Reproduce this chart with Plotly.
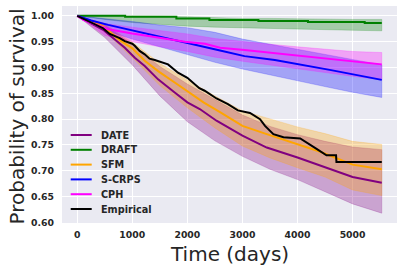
import plotly.graph_objects as go

# ---------------- data ----------------
band_t = [0, 500, 1000, 1500, 2000, 2500, 3000, 3500, 4000, 4500, 5000, 5530]

# DATE (purple)
date_t = [0, 250, 470, 864, 1045, 1226, 1468, 1770, 2000, 2225, 2529, 3000, 3441, 4000, 4413, 5000, 5530]
date_v = [1.0, 0.986, 0.973, 0.938, 0.919, 0.903, 0.877, 0.8515, 0.8325, 0.8196, 0.797, 0.768, 0.745, 0.7257, 0.7096, 0.688, 0.677]
date_lo = [1.0, 0.958, 0.905, 0.845, 0.795, 0.758, 0.728, 0.703, 0.683, 0.659, 0.636, 0.618]
date_hi = [1.0, 0.982, 0.945, 0.902, 0.868, 0.838, 0.808, 0.786, 0.770, 0.757, 0.746, 0.741]

# DRAFT (green)
draft_t = [0, 870, 1800, 2400, 3290, 4190, 5220, 5530]
draft_v = [1.0, 0.998, 0.995, 0.992, 0.990, 0.988, 0.986, 0.986]
draft_lo = [1.0, 0.993, 0.987, 0.983, 0.980, 0.978, 0.976, 0.975, 0.974, 0.973, 0.972, 0.971]
draft_hi = [1.0, 1.0, 1.0, 0.999, 0.998, 0.996, 0.995, 0.995, 0.994, 0.994, 0.993, 0.993]

# SFM (orange)
sfm_t = [0, 250, 470, 771, 1000, 1226, 1468, 1770, 2000, 2300, 2600, 3000, 3441, 4000, 4413, 5000, 5530]
sfm_v = [1.0, 0.99, 0.98, 0.953, 0.937, 0.913, 0.893, 0.871, 0.854, 0.832, 0.813, 0.787, 0.771, 0.7516, 0.737, 0.712, 0.703]
sfm_lo = [1.0, 0.970, 0.919, 0.865, 0.822, 0.783, 0.748, 0.725, 0.706, 0.688, 0.663, 0.652]
sfm_hi = [1.0, 0.984, 0.949, 0.908, 0.876, 0.845, 0.816, 0.800, 0.785, 0.772, 0.757, 0.751]

# S-CRPS (blue)
scrps_t = [0, 250, 563, 1000, 1470, 1955, 2318, 2594, 3038, 3588, 4585, 5000, 5530]
scrps_v = [1.0, 0.991, 0.9825, 0.972, 0.9606, 0.949, 0.941, 0.933, 0.922, 0.9146, 0.8954, 0.887, 0.876]
scrps_lo = [1.0, 0.972, 0.955, 0.940, 0.925, 0.910, 0.897, 0.885, 0.874, 0.863, 0.852, 0.842]
scrps_hi = [1.0, 0.995, 0.989, 0.982, 0.977, 0.968, 0.955, 0.945, 0.935, 0.925, 0.915, 0.905]

# CPH (magenta)
cph_t = [0, 110, 260, 563, 1000, 1470, 1955, 2318, 2594, 3038, 3588, 4585, 5000, 5530]
cph_v = [1.0, 0.992, 0.986, 0.974, 0.9656, 0.9575, 0.950, 0.946, 0.9383, 0.934, 0.9275, 0.916, 0.911, 0.906]
cph_lo = [1.0, 0.962, 0.950, 0.940, 0.931, 0.920, 0.912, 0.905, 0.897, 0.890, 0.883, 0.876]
cph_hi = [1.0, 0.985, 0.978, 0.971, 0.965, 0.956, 0.950, 0.945, 0.940, 0.935, 0.931, 0.929]

# Empirical (black)
emp_t = [0, 229, 470, 590, 771, 864, 1000, 1045, 1133, 1226, 1313, 1408, 1494, 1649, 1830, 2000,
         2217, 2313, 2529, 2736, 2917, 3137, 3319, 3410, 3562, 3745, 4049, 4170, 4353, 4526, 4700, 4707, 5530]
emp_v = [1.0, 0.989, 0.976, 0.965, 0.957, 0.951, 0.946, 0.942, 0.932, 0.9255, 0.917, 0.9146, 0.912, 0.906, 0.890, 0.880,
         0.860, 0.855, 0.840, 0.829, 0.817, 0.812, 0.800, 0.787, 0.771, 0.765, 0.7626, 0.755, 0.742, 0.730, 0.730, 0.717, 0.717]

legend_names = ["DATE", "DRAFT", "SFM", "S-CRPS", "CPH", "Empirical"]
y_ticks = [0.60, 0.65, 0.70, 0.75, 0.80, 0.85, 0.90, 0.95, 1.00]
x_ticks = [0, 1000, 2000, 3000, 4000, 5000]

# ---------------- figure ----------------
TXT = "#262626"
FONT = "DejaVu Sans"

models = [
    ("DATE", date_t, date_v, date_lo, date_hi, (128, 0, 128), "linear"),
    ("DRAFT", draft_t, draft_v, draft_lo, draft_hi, (0, 128, 0), "hv"),
    ("SFM", sfm_t, sfm_v, sfm_lo, sfm_hi, (255, 165, 0), "linear"),
    ("S-CRPS", scrps_t, scrps_v, scrps_lo, scrps_hi, (0, 0, 255), "linear"),
    ("CPH", cph_t, cph_v, cph_lo, cph_hi, (255, 0, 255), "linear"),
]
colors = {m[0]: "rgb(%d,%d,%d)" % m[5] for m in models}
colors["Empirical"] = "black"

fig = go.Figure()

for name, t, v, lo, hi, c, shape in models:
    fig.add_trace(go.Scatter(
        x=band_t + band_t[::-1], y=hi + lo[::-1],
        fill="toself", mode="lines",
        line=dict(width=0.6, color="rgba(%d,%d,%d,0.35)" % c),
        fillcolor="rgba(%d,%d,%d,0.3)" % c,
        showlegend=False, hoverinfo="skip"))

for name, t, v, lo, hi, c, shape in models:
    fig.add_trace(go.Scatter(
        x=t, y=v, mode="lines", name=name, showlegend=False,
        line=dict(color=colors[name], width=2, shape=shape)))

fig.add_trace(go.Scatter(
    x=emp_t, y=emp_v, mode="lines", name="Empirical", showlegend=False,
    line=dict(color="black", width=2)))

# custom legend (pixel offsets from the plot area's top-left corner)
PLOT_TOP = 6
shapes, annotations = [], []
for i, name in enumerate(legend_names):
    row = 129 + 14.8 * i  # pixels below plot top
    shapes.append(dict(
        type="line", xref="paper", yref="paper",
        xsizemode="pixel", ysizemode="pixel", xanchor=0, yanchor=1,
        x0=8.7, x1=29.7, y0=-row, y1=-row,
        line=dict(color=colors[name], width=2)))
    annotations.append(dict(
        text=name, xref="paper", yref="paper", x=0, y=1,
        xanchor="left", yanchor="middle", xshift=37, yshift=-row,
        showarrow=False, font=dict(family=FONT, size=9.7, color=TXT, weight="bold")))

annotations += [
    dict(text="Time (days)", xref="paper", yref="paper", x=0.5, y=0,
         xanchor="center", yanchor="middle", yshift=-31, showarrow=False,
         font=dict(family=FONT, size=20, color=TXT)),
    dict(text="Probability of survival", xref="paper", yref="paper", x=0, y=0.5,
         xanchor="center", yanchor="middle", xshift=-46, yshift=-2, textangle=-90,
         showarrow=False, font=dict(family=FONT, size=20, color=TXT)),
]

fig.update_layout(
    width=403, height=271,
    margin=dict(l=62, r=6, t=PLOT_TOP, b=48, autoexpand=False),
    paper_bgcolor="white", plot_bgcolor="#EAEAF2",
    font=dict(family=FONT, color=TXT),
    showlegend=False,
    xaxis=dict(
        range=[-276.5, 5806.5], tickvals=x_ticks, ticktext=[str(x) for x in x_ticks],
        showgrid=True, gridcolor="white", gridwidth=1, zeroline=False, automargin=False,
        showline=False, ticks="", ticklabelstandoff=5,
        tickfont=dict(family=FONT, size=9.3, color=TXT, weight="bold")),
    yaxis=dict(
        range=[0.599, 1.019], tickvals=y_ticks, ticktext=["%.2f" % y for y in y_ticks],
        showgrid=True, gridcolor="white", gridwidth=1, zeroline=False, automargin=False,
        showline=False, ticks="", ticklabelstandoff=7,
        tickfont=dict(family=FONT, size=9.3, color=TXT, weight="bold")),
    shapes=shapes,
    annotations=annotations,
)

fig.write_html("out.html", config={"displayModeBar": False},
               post_script="document.body.style.margin='0';")
